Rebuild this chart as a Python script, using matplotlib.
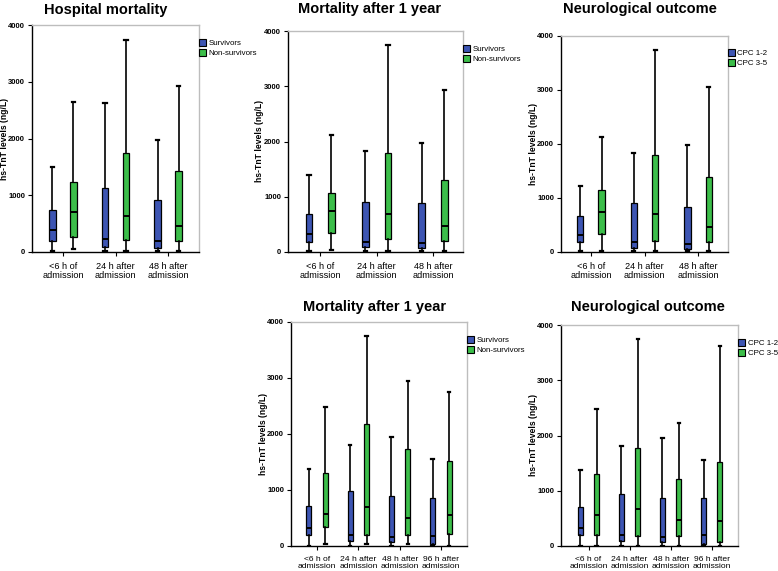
import matplotlib
matplotlib.use("Agg")
import matplotlib.pyplot as plt
from matplotlib import font_manager
from matplotlib.patches import Patch

def pick(fams):
    for f in fams:
        try:
            font_manager.findfont(font_manager.FontProperties(family=f), fallback_to_default=False)
            return f
        except Exception:
            pass
    return "DejaVu Sans"

SANS = pick(["Liberation Sans", "DejaVu Sans"])

# ---------------- data ----------------
groups3 = ["<6 h of\nadmission", "24 h after\nadmission", "48 h after\nadmission"]
groups4 = ["<6 h of\nadmission", "24 h after\nadmission", "48 h after\nadmission", "96 h after\nadmission"]
yticks = [0, 1000, 2000, 3000, 4000]

# Panel 1: Hospital mortality
p1_title = "Hospital mortality"
p1_labels = ["Survivors", "Non-survivors"]
p1_a_low = [10, 10, 10]; p1_a_q1 = [195, 89, 77]; p1_a_med = [385, 237, 189]; p1_a_q3 = [746, 1136, 911]; p1_a_high = [1500, 2620, 1970]
p1_b_low = [47, 10, 10]; p1_b_q1 = [260, 207, 189]; p1_b_med = [710, 627, 462]; p1_b_q3 = [1231, 1740, 1420]; p1_b_high = [2640, 3740, 2933]

# Panel 2: Mortality after 1 year (3 time points)
p2_title = "Mortality after 1 year"
p2_labels = ["Survivors", "Non-survivors"]
p2_a_low = [12, 10, 10]; p2_a_q1 = [182, 85, 67]; p2_a_med = [327, 188, 158]; p2_a_q3 = [691, 909, 879]; p2_a_high = [1388, 1830, 1970]
p2_b_low = [42, 10, 10]; p2_b_q1 = [339, 236, 200]; p2_b_med = [745, 691, 473]; p2_b_q3 = [1060, 1785, 1297]; p2_b_high = [2115, 3745, 2940]

# Panel 3: Neurological outcome (3 time points)
p3_title = "Neurological outcome"
p3_labels = ["CPC 1-2", "CPC 3-5"]
p3_a_low = [10, 10, 10]; p3_a_q1 = [187, 81, 62]; p3_a_med = [312, 187, 150]; p3_a_q3 = [669, 906, 837]; p3_a_high = [1225, 1830, 1975]
p3_b_low = [10, 10, 10]; p3_b_q1 = [331, 206, 181]; p3_b_med = [745, 700, 469]; p3_b_q3 = [1144, 1805, 1387]; p3_b_high = [2125, 3745, 3060]

# Panel 4: Mortality after 1 year (4 time points)
p4_title = "Mortality after 1 year"
p4_labels = ["Survivors", "Non-survivors"]
p4_a_low = [5, 5, 5, 5]; p4_a_q1 = [188, 88, 70, 35]; p4_a_med = [329, 194, 165, 182]; p4_a_q3 = [706, 988, 888, 865]; p4_a_high = [1376, 1812, 1953, 1559]
p4_b_low = [35, 30, 30, 5]; p4_b_q1 = [335, 194, 200, 206]; p4_b_med = [565, 688, 506, 553]; p4_b_q3 = [1306, 2170, 1730, 1512]; p4_b_high = [2490, 3745, 2946, 2755]

# Panel 5: Neurological outcome (4 time points)
p5_title = "Neurological outcome"
p5_labels = ["CPC 1-2", "CPC 3-5"]
p5_a_low = [5, 5, 5, 5]; p5_a_q1 = [198, 90, 72, 36]; p5_a_med = [329, 192, 156, 204]; p5_a_q3 = [707, 940, 868, 862]; p5_a_high = [1371, 1814, 1946, 1557]
p5_b_low = [5, 5, 5, 5]; p5_b_q1 = [192, 180, 174, 66]; p5_b_med = [557, 671, 467, 461]; p5_b_q3 = [1305, 1780, 1204, 1515]; p5_b_high = [2485, 3740, 2234, 3615]

BLUE = "#3D55B3"
GREEN = "#3CBE4A"

def stats(low, q1, med, q3, high):
    return [dict(whislo=a, q1=b, med=c, q3=d, whishi=e, fliers=[]) for a, b, c, d, e in zip(low, q1, med, q3, high)]

fig = plt.figure(figsize=(7.78, 5.71), dpi=100)
W, H = 778, 571

def px_axes(x0, y0, x1, y1):
    return fig.add_axes([x0 / W, 1 - y1 / H, (x1 - x0) / W, (y1 - y0) / H])

def panel(rect, xlim, groups, a, b, labels, title, title_xy, ylab_x, leg_y, xfs):
    ax = px_axes(*rect)
    n = len(groups)
    pos = list(range(1, n + 1))
    off = 0.2
    for st, col, sgn in ((a, BLUE, -1), (b, GREEN, 1)):
        ax.bxp(st, positions=[p + sgn * off for p in pos], widths=0.12, capwidths=0.06,
               patch_artist=True, showfliers=False, manage_ticks=False,
               boxprops=dict(facecolor=col, edgecolor="black", linewidth=0.9),
               medianprops=dict(color="black", linewidth=1.4),
               whiskerprops=dict(color="black", linewidth=1.2),
               capprops=dict(color="black", linewidth=1.6))
    ax.set_xlim(*xlim)
    ax.set_ylim(0, 4000)
    ax.set_yticks(yticks)
    ax.set_yticklabels([str(t) for t in yticks], fontfamily=SANS, fontweight="bold", fontsize=5.5)
    ax.set_xticks(pos)
    ax.set_xticklabels(groups, fontfamily=SANS, fontsize=xfs, linespacing=1.0)
    ax.tick_params(axis="y", direction="out", length=3, width=0.8, pad=2)
    ax.tick_params(axis="x", direction="out", length=3, width=0.8, pad=4)
    for s in ("left", "bottom"):
        ax.spines[s].set_color("black")
        ax.spines[s].set_linewidth(1.0)
    for s in ("top", "right"):
        ax.spines[s].set_color("#BDBDBD")
        ax.spines[s].set_linewidth(1.0)
    fig.text(title_xy[0] / W, 1 - title_xy[1] / H, title, ha="center", va="center",
             fontfamily=SANS, fontweight="bold", fontsize=10.5)
    ymid = (rect[1] + rect[3]) / 2
    fig.text(ylab_x / W, 1 - ymid / H, "hs-TnT levels (ng/L)", rotation=90, ha="center", va="center",
             fontfamily=SANS, fontweight="bold", fontsize=6.2)
    handles = [Patch(facecolor=BLUE, edgecolor="black", linewidth=0.8),
               Patch(facecolor=GREEN, edgecolor="black", linewidth=0.8)]
    ax_h = rect[3] - rect[1]
    ax.legend(handles, labels, loc="upper left", bbox_to_anchor=(1.0, 1 - (leg_y - rect[1]) / ax_h),
              frameon=False, borderaxespad=0, borderpad=0, handlelength=0.9, handleheight=1.0,
              handletextpad=0.3, labelspacing=0.25,
              prop=dict(family=SANS, size=5.7))
    return ax

panel((32, 25, 199, 252), (0.41, 3.59), groups3,
      stats(p1_a_low, p1_a_q1, p1_a_med, p1_a_q3, p1_a_high),
      stats(p1_b_low, p1_b_q1, p1_b_med, p1_b_q3, p1_b_high),
      p1_labels, p1_title, (106, 10), 5, 39, 6.6)
panel((288, 31, 463, 252), (0.43, 3.53), groups3,
      stats(p2_a_low, p2_a_q1, p2_a_med, p2_a_q3, p2_a_high),
      stats(p2_b_low, p2_b_q1, p2_b_med, p2_b_q3, p2_b_high),
      p2_labels, p2_title, (370, 9), 260, 45, 6.6)
panel((561, 36, 728, 252), (0.44, 3.56), groups3,
      stats(p3_a_low, p3_a_q1, p3_a_med, p3_a_q3, p3_a_high),
      stats(p3_b_low, p3_b_q1, p3_b_med, p3_b_q3, p3_b_high),
      p3_labels, p3_title, (640, 9), 534, 49, 6.6)
panel((291, 322, 467, 546), (0.37, 4.63), groups4,
      stats(p4_a_low, p4_a_q1, p4_a_med, p4_a_q3, p4_a_high),
      stats(p4_b_low, p4_b_q1, p4_b_med, p4_b_q3, p4_b_high),
      p4_labels, p4_title, (375, 307), 263, 336, 6.1)
panel((561, 325, 738, 546), (0.33, 4.64), groups4,
      stats(p5_a_low, p5_a_q1, p5_a_med, p5_a_q3, p5_a_high),
      stats(p5_b_low, p5_b_q1, p5_b_med, p5_b_q3, p5_b_high),
      p5_labels, p5_title, (648, 307), 534, 339, 6.1)

fig.savefig("out.png", dpi=100)
